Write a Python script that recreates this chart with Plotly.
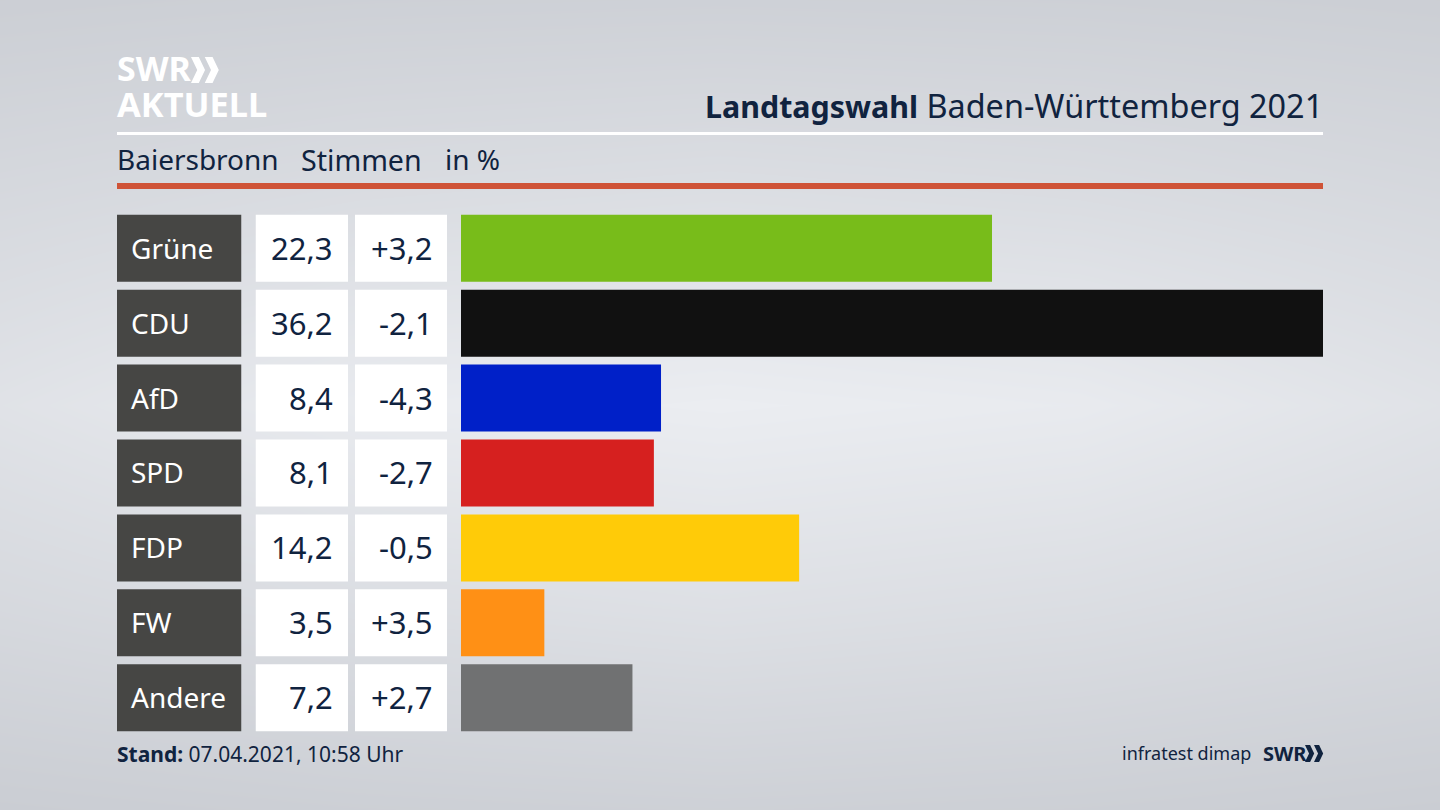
import plotly.graph_objects as go

parties = ['Grüne', 'CDU', 'AfD', 'SPD', 'FDP', 'FW', 'Andere']
shares = [22.3, 36.2, 8.4, 8.1, 14.2, 3.5, 7.2]
changes = [3.2, -2.1, -4.3, -2.7, -0.5, 3.5, 2.7]
bar_colors = ['#78bc1a', '#111111', '#0020c8', '#d6201f', '#ffcb08', '#ff9015', '#707172']

# background brightness (rows top to bottom)
bg_x = [0, 360, 720, 1080, 1440]
bg_y = [0, 200, 405, 610, 810]
bg_z = [
    [0.08, 0.13, 0.15, 0.13, 0.08],
    [0.38, 0.50, 0.56, 0.50, 0.38],
    [0.68, 0.92, 1.00, 0.92, 0.68],
    [0.38, 0.52, 0.60, 0.52, 0.38],
    [0.03, 0.10, 0.14, 0.10, 0.03],
]

W, H = 1440, 810
NAVY = '#10233f'
FONT = 'Noto Sans'


def fx(px):
    return px / W


def fy(px):
    return 1 - px / H


def label(x, y, text, size, color=NAVY, anchor='left'):
    return dict(xref='paper', yref='paper', x=fx(x), y=fy(y), text=text, showarrow=False,
                xanchor=anchor, yanchor='middle', align=anchor, borderpad=0, borderwidth=0,
                font=dict(family=FONT, size=size, color=color))


def chevrons(x, y, h, color):
    # the two arrows of the SWR logo
    w = h * 0.54
    t = h * 0.3
    out = []
    for dx in (0, w * 0.98):
        pts = [(x + dx, y), (x + dx + t, y), (x + dx + w, y + h / 2), (x + dx + t, y + h), (x + dx, y + h),
               (x + dx + w - t, y + h / 2)]
        path = 'M ' + ' L '.join(f'{fx(a):.5f},{fy(b):.5f}' for a, b in pts) + ' Z'
        out.append(dict(type='path', xref='paper', yref='paper', path=path, fillcolor=color, line_width=0))
    return out


fig = go.Figure()

fig.add_trace(go.Heatmap(x=bg_x, y=bg_y, z=bg_z, zmin=0, zmax=1, zsmooth='best', showscale=False,
                         hoverinfo='skip', colorscale=[[0, '#c9ccd2'], [1, '#ebedf1']]))

# table cells share the row axis with the bars
for axis, color in (('x3', '#464644'), ('x4', '#ffffff'), ('x5', '#ffffff')):
    fig.add_trace(go.Bar(y=parties, x=[1] * len(parties), orientation='h', marker_color=color,
                         marker_line_width=0, xaxis=axis, yaxis='y2', hoverinfo='skip'))

fig.add_trace(go.Bar(y=parties, x=shares, orientation='h', marker_color=bar_colors,
                     marker_line_width=0, xaxis='x2', yaxis='y2'))

annotations = [
    label(1323, 105, '<span style="font-size:30.4px"><b>Landtagswahl</b></span> Baden-Württemberg 2021',
          32.4, anchor='right'),
    label(117, 159.5, 'Baiersbronn', 28),
    label(301, 159.5, 'Stimmen', 28.6),
    label(445, 159.5, 'in %', 28),
    label(117, 68, '<b>SWR</b>', 34, '#ffffff'),
    label(117, 103.5, '<b>AKTUELL</b>', 34.4, '#ffffff'),
    label(117, 754, '<b>Stand:</b> 07.04.2021, 10:58 Uhr', 21),
    label(1251, 753, 'infratest dimap', 18, anchor='right'),
    label(1263, 753, '<b>SWR</b>', 20),
]

for i, party in enumerate(parties):
    y = 247.7 + i * 74.92
    annotations.append(label(131, y, party, 28, '#ffffff'))
    annotations.append(label(333, y, f'{shares[i]:.1f}'.replace('.', ','), 31, anchor='right'))
    annotations.append(label(433, y, f'{changes[i]:+.1f}'.replace('.', ','), 31, anchor='right'))

shapes = [
    dict(type='rect', xref='paper', yref='paper', x0=fx(117), x1=fx(1323), y0=fy(132), y1=fy(135),
         fillcolor='#ffffff', line_width=0),
    dict(type='rect', xref='paper', yref='paper', x0=fx(117), x1=fx(1323), y0=fy(183), y1=fy(189),
         fillcolor='#cf5337', line_width=0),
]
shapes += chevrons(191, 57, 26, '#ffffff')
shapes += chevrons(1305, 745, 17, NAVY)

hidden = dict(visible=False, fixedrange=True)
fig.update_layout(
    width=W, height=H, margin=dict(l=0, r=0, t=0, b=0, pad=0),
    paper_bgcolor='#dfe1e6', plot_bgcolor='rgba(0,0,0,0)',
    showlegend=False, barmode='overlay', bargap=0.105,
    annotations=annotations, shapes=shapes,
    xaxis=dict(hidden, domain=[0, 1], range=[0, W]),
    yaxis=dict(hidden, domain=[0, 1], range=[H, 0]),
    xaxis2=dict(hidden, domain=[fx(461), fx(1323)], range=[0, max(shares)], anchor='y2'),
    yaxis2=dict(hidden, domain=[fy(735.2), fy(210.8)], autorange=False, range=[6.5, -0.5],
                type='category', categoryorder='array', categoryarray=parties, anchor='x2'),
    xaxis3=dict(hidden, domain=[fx(117), fx(241.5)], range=[0, 1], anchor='y2'),
    xaxis4=dict(hidden, domain=[fx(255.5), fx(348)], range=[0, 1], anchor='y2'),
    xaxis5=dict(hidden, domain=[fx(355), fx(447)], range=[0, 1], anchor='y2'),
)

fig.write_html('out.html', config={'displayModeBar': False},
               post_script="document.body.style.margin='0';")
